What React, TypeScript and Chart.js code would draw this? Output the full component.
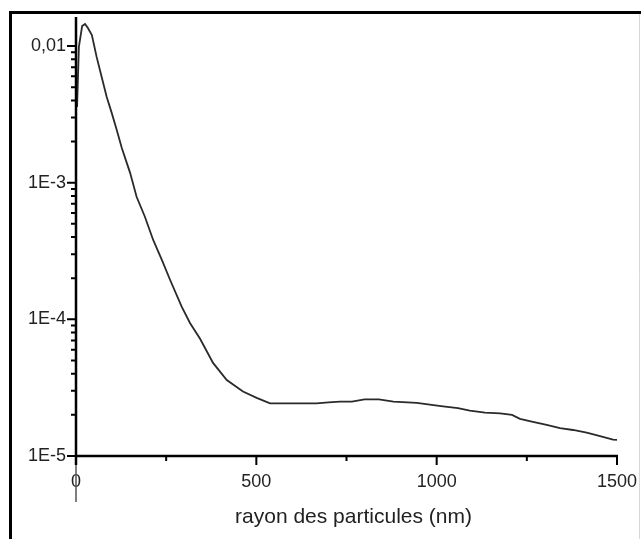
import { useEffect, useRef } from 'react';
import { Chart, registerables } from 'chart.js';

Chart.register(...registerables);

// particle radius (nm)
const radiusNm = [
  3, 8, 17, 25, 33, 44, 57, 71, 85, 99, 113, 127, 141, 150, 168, 191, 214, 238, 261, 293,
  316, 344, 380, 418, 463, 501, 538, 600, 667, 700, 732, 765, 800, 840, 880, 945, 1012,
  1059, 1092, 1134, 1176, 1209, 1231, 1267, 1305, 1342, 1378, 1416, 1453, 1489, 1500,
];
// distribution value
const density = [
  3.58e-3, 9.84e-3, 0.014, 0.01449, 0.01355, 0.01203, 8.36e-3, 5.96e-3, 4.25e-3, 3.24e-3,
  2.43e-3, 1.79e-3, 1.39e-3, 1.18e-3, 7.89e-4, 5.63e-4, 3.81e-4, 2.72e-4, 1.94e-4, 1.24e-4,
  9.4e-5, 7.2e-5, 4.8e-5, 3.6e-5, 2.96e-5, 2.66e-5, 2.43e-5, 2.43e-5, 2.43e-5, 2.47e-5,
  2.5e-5, 2.5e-5, 2.6e-5, 2.6e-5, 2.5e-5, 2.45e-5, 2.32e-5, 2.24e-5, 2.15e-5, 2.08e-5,
  2.05e-5, 2.0e-5, 1.87e-5, 1.78e-5, 1.69e-5, 1.6e-5, 1.55e-5, 1.48e-5, 1.4e-5, 1.32e-5, 1.31e-5,
];

const xTickValues = [0, 500, 1000, 1500];
const xMinorTickValues = [250, 750, 1250];
const yTickValues = [1e-5, 1e-4, 1e-3, 1e-2];
const yTickLabels = ['1E-5', '1E-4', '1E-3', '0,01'];
const yMinorMultipliers = [2, 3, 4, 5, 6, 7, 8, 9];
const xTitle = 'rayon des particules (nm)';

const FONT = "'Liberation Sans', Arial, sans-serif";
const TEXT = '#222';

const framePlugin = {
  id: 'frame',
  beforeDraw(chart: any) {
    const { ctx, width, height } = chart;
    ctx.save();
    ctx.fillStyle = '#fff';
    ctx.fillRect(0, 0, width, height);
    ctx.restore();
  },
  afterDraw(chart: any) {
    const { ctx, chartArea } = chart;
    const x = chart.scales.x;
    const y = chart.scales.y;
    const x0 = x.getPixelForValue(0);
    const x1 = x.getPixelForValue(1500);
    const yb = y.getPixelForValue(1e-5);
    const yt = chartArea.top;
    ctx.save();
    // outer frame
    ctx.strokeStyle = '#000';
    ctx.lineWidth = 3;
    ctx.beginPath();
    ctx.moveTo(9, 12.5);
    ctx.lineTo(641, 12.5);
    ctx.moveTo(10.5, 11);
    ctx.lineTo(10.5, 539);
    ctx.stroke();
    ctx.strokeStyle = '#d8d8d8';
    ctx.lineWidth = 1;
    ctx.beginPath();
    ctx.moveTo(639.5, 14);
    ctx.lineTo(639.5, 539);
    ctx.stroke();

    // y axis line
    ctx.strokeStyle = '#000';
    ctx.lineWidth = 2.5;
    ctx.beginPath();
    ctx.moveTo(x0, yt);
    ctx.lineTo(x0, yb + 9);
    ctx.stroke();
    ctx.strokeStyle = '#555';
    ctx.lineWidth = 1.5;
    ctx.beginPath();
    ctx.moveTo(x0, yb + 9);
    ctx.lineTo(x0, yb + 46);
    ctx.stroke();

    // x axis line
    ctx.strokeStyle = '#000';
    ctx.lineWidth = 2.5;
    ctx.beginPath();
    ctx.moveTo(x0, yb);
    ctx.lineTo(x1 + 1, yb);
    ctx.stroke();

    // x ticks
    ctx.lineWidth = 2;
    ctx.beginPath();
    xTickValues.forEach((v) => {
      const px = x.getPixelForValue(v);
      ctx.moveTo(px, yb);
      ctx.lineTo(px, yb + 9);
    });
    xMinorTickValues.forEach((v) => {
      const px = x.getPixelForValue(v);
      ctx.moveTo(px, yb);
      ctx.lineTo(px, yb + 5);
    });
    ctx.stroke();

    // y ticks
    ctx.beginPath();
    yTickValues.forEach((d) => {
      const py = y.getPixelForValue(d);
      ctx.moveTo(x0, py);
      ctx.lineTo(x0 - 9, py);
      yMinorMultipliers.forEach((m) => {
        const v = d * m;
        if (v <= y.max) {
          const pm = y.getPixelForValue(v);
          ctx.moveTo(x0, pm);
          ctx.lineTo(x0 - 5, pm);
        }
      });
    });
    ctx.stroke();

    // axis title
    ctx.fillStyle = TEXT;
    ctx.font = `21px ${FONT}`;
    ctx.textAlign = 'center';
    ctx.textBaseline = 'middle';
    ctx.fillText(xTitle, (x0 + x1) / 2 + 7, 517);
    ctx.restore();
  },
};

export default function App() {
  const ref = useRef<HTMLCanvasElement>(null);
  useEffect(() => {
    if (!ref.current) return;
    const chart = new Chart(ref.current, {
      type: 'line',
      data: {
        datasets: [
          {
            data: radiusNm.map((r, i) => ({ x: r, y: density[i] })),
            borderColor: '#2a2a2a',
            borderWidth: 1.8,
            pointRadius: 0,
            fill: false,
            tension: 0,
          },
        ],
      },
      options: {
        responsive: false,
        animation: false,
        layout: { padding: { top: 17, right: 24, bottom: 0, left: 0 } },
        plugins: { legend: { display: false }, tooltip: { enabled: false }, title: { display: false } },
        scales: {
          x: {
            type: 'linear',
            min: 0,
            max: 1500,
            grid: { display: false, drawTicks: false },
            border: { display: false },
            afterBuildTicks: (s: any) => {
              s.ticks = xTickValues.map((v) => ({ value: v }));
            },
            afterFit: (s: any) => {
              s.height = 83;
              s.paddingLeft = 0;
              s.paddingRight = 0;
            },
            ticks: {
              padding: 15,
              maxRotation: 0,
              autoSkip: false,
              color: TEXT,
              font: { family: FONT, size: 18 },
              callback: (v: any) => String(v),
            },
          },
          y: {
            type: 'logarithmic',
            min: 1e-5,
            max: 0.0163,
            grid: { display: false, drawTicks: false },
            border: { display: false },
            afterBuildTicks: (s: any) => {
              s.ticks = yTickValues.map((v) => ({ value: v }));
            },
            afterFit: (s: any) => {
              s.width = 76;
              s.paddingTop = 0;
              s.paddingBottom = 0;
            },
            ticks: {
              padding: 10,
              autoSkip: false,
              color: TEXT,
              font: { family: FONT, size: 18 },
              callback: (v: any) => {
                const i = yTickValues.findIndex((t) => Math.abs(t - v) / t < 1e-6);
                return i >= 0 ? yTickLabels[i] : '';
              },
            },
          },
        },
      },
      plugins: [framePlugin],
    });
    return () => chart.destroy();
  }, []);
  return (
    <canvas
      ref={ref}
      width={641}
      height={539}
      style={{ position: 'absolute', left: 0, top: 0, display: 'block' }}
    />
  );
}
